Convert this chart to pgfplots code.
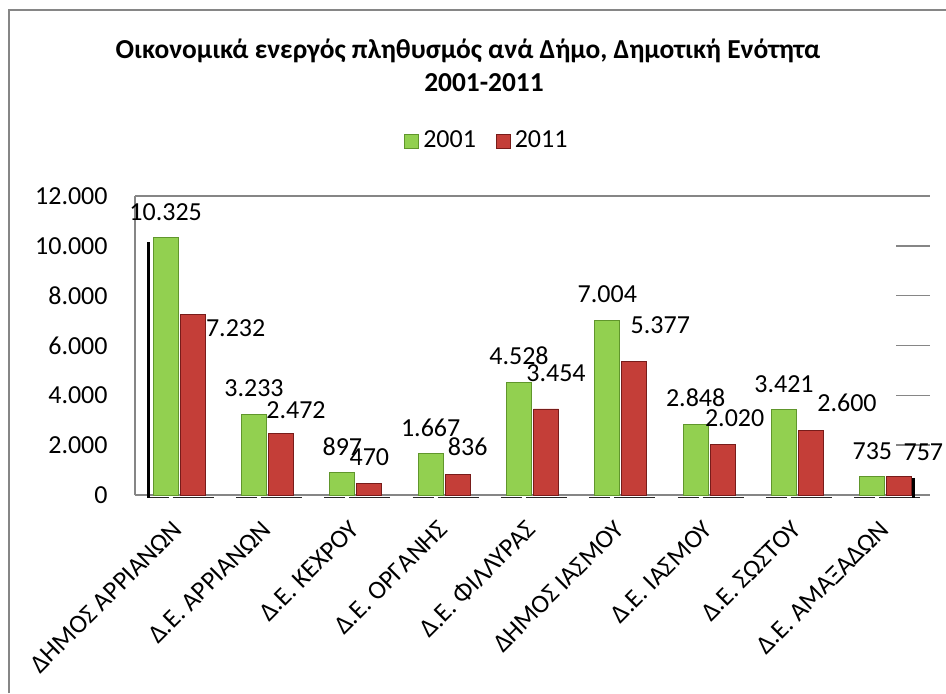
\documentclass[border=0pt]{standalone}
\usepackage{pgfplots}
\usepackage{pgfplotstable}
\pgfplotsset{compat=1.18}
\usepackage{fontspec}
\setmainfont{Carlito}
\definecolor{gM}{RGB}{146,208,80}
\definecolor{gD}{RGB}{96,150,44}
\definecolor{rM}{RGB}{196,62,56}
\definecolor{rD}{RGB}{120,28,26}
\definecolor{framegray}{RGB}{134,134,134}
\pgfplotstableread{
x y
0 10325
1 3233
2 897
3 1667
4 4528
5 7004
6 2848
7 3421
8 735
}\greendata
\pgfplotstableread{
x y dx dy
0 7232 21.5 -6.5
1 2472 7.5 11.5
2 470 0 13
3 836 5 13.5
4 3454 5 18
5 5377 13 18
6 2020 6 13.5
7 2600 18 13.5
8 757 12 12
}\reddata
\begin{document}
\begin{tikzpicture}
\path[use as bounding box] (0,0) rectangle (473pt,346.5pt);
\draw[line width=1pt, framegray] (4.5pt,0) -- (4.5pt,341.5pt) -- (473pt,341.5pt);
\begin{axis}[
  at={(67.5pt,99pt)}, anchor=south west,
  scale only axis, width=397.5pt, height=149.5pt,
  xmin=-0.5, xmax=8.5, ymin=0, ymax=12000,
  ytick={0,2000,...,12000},
  xtick={0,...,8},
  xticklabels={ΔΗΜΟΣ ΑΡΡΙΑΝΩΝ, Δ.Ε. ΑΡΡΙΑΝΩΝ, Δ.Ε. ΚΕΧΡΟΥ, Δ.Ε. ΟΡΓΑΝΗΣ, Δ.Ε. ΦΙΛΛΥΡΑΣ, ΔΗΜΟΣ ΙΑΣΜΟΥ, Δ.Ε. ΙΑΣΜΟΥ, Δ.Ε. ΣΩΣΤΟΥ, Δ.Ε. ΑΜΑΞΑΔΩΝ},
  scaled y ticks=false,
  /pgf/number format/.cd, fixed, precision=0, 1000 sep={.}, assume math mode=true, /pgfplots/.cd,
  major tick length=0pt,
  axis x line*=bottom, axis y line*=left,
  axis line style={framegray, line width=0.75pt, -},
  tick label style={font=\fontsize{13}{15}\selectfont},
  yticklabel style={inner sep=0pt, anchor=east, xshift=-13.5pt},
  xticklabel style={inner sep=0pt, xshift=-0.5pt, yshift=-15pt, rotate=45, anchor=east},
  ybar, bar width=12.5pt,
  legend style={at={(0.444,1.184)}, anchor=center, draw=none, legend columns=-1,
    font=\fontsize{13}{15}\selectfont,
    /tikz/every even column/.append style={column sep=8pt}},
  legend image code/.code={\path[#1] (0pt,-3.5pt) rectangle (7pt,3.5pt);},
  nodes near coords={\pgfmathprintnumber{\pgfplotspointmeta}},
  every node near coord/.append style={font=\fontsize{13}{15}\selectfont, anchor=center, text=black},
  clip=false,
]
\pgfplotsinvokeforeach{2000,4000,6000,8000,10000}{
  \draw[framegray, line width=0.75pt] (axis cs:8.115,#1) -- (axis cs:8.5,#1);
}
\draw[framegray, line width=0.75pt] (rel axis cs:0,1) -- (rel axis cs:1,1);
\pgfplotsinvokeforeach{0,...,8}{
  \draw[black!85, line width=0.6pt] (axis cs:#1-0.357,-110) -- (axis cs:#1-0.119,-110);
  \draw[black!85, line width=0.6pt] (axis cs:#1-0.074,-110) -- (axis cs:#1+0.391,-110);
}
\draw[black, line width=1.6pt] (axis cs:-0.345,10150) -- (axis cs:-0.345,-110);
\draw[black, line width=1.6pt] (axis cs:8.315,690) -- (axis cs:8.315,-110);
\addplot[bar shift=-6.75pt, draw=gD, line width=0.4pt, fill=gM,
  every node near coord/.append style={yshift=13pt}]
  table[x=x, y=y] {\greendata};
\addplot[bar shift=6.75pt, draw=rD, line width=0.4pt, fill=rM,
  visualization depends on={\thisrow{dx} \as \dx},
  visualization depends on={\thisrow{dy} \as \dy},
  every node near coord/.append style={xshift=\dx pt, yshift=\dy pt}]
  table[x=x, y=y] {\reddata};
\legend{2001, 2011}
\end{axis}
\node[anchor=base, font=\bfseries\fontsize{13.7}{16}\selectfont] at (234pt,317.5pt) {Οικονομικά ενεργός πληθυσμός ανά Δήμο, Δημοτική Ενότητα};
\node[anchor=base, font=\bfseries\fontsize{13.7}{16}\selectfont] at (242pt,301pt) {2001-2011};
\end{tikzpicture}
\end{document}
